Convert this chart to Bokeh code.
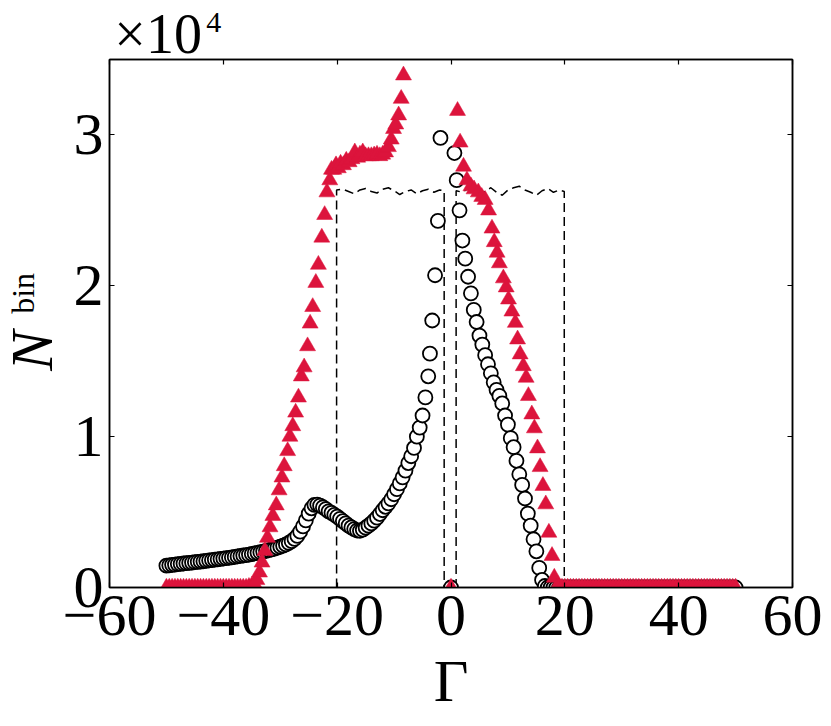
import math
from bokeh.plotting import figure
from bokeh.models import Range1d, FixedTicker, LinearAxis, Label
from bokeh.embed import file_html
from bokeh.resources import INLINE

# ---------------- data (N_bin in units of 10^4) ----------------
x_ticks = [-60, -40, -20, 0, 20, 40, 60]
x_tick_labels = ["\u221260", "\u221240", "\u221220", "0", "20", "40", "60"]
y_ticks = [0, 1, 2, 3]
y_tick_labels = ["0", "1", "2", "3"]

# open circles
circ_x_left = [
    -50.0, -49.5, -49.0, -48.5, -48.0, -47.5, -47.0, -46.5, -46.0, -45.5,
    -45.0, -44.5, -44.0, -43.5, -43.0, -42.5, -42.0, -41.5, -41.0, -40.5,
    -40.0, -39.5, -39.0, -38.5, -38.0, -37.5, -37.0, -36.5, -36.0, -35.5,
    -35.0, -34.5, -34.0, -33.5, -33.0, -32.5, -32.0, -31.5, -31.0, -30.5,
    -30.0, -29.5, -29.0, -28.5, -28.0, -27.5, -27.0, -26.5, -26.0, -25.5,
    -25.0, -24.5, -24.0, -23.5, -23.0, -22.5, -22.0, -21.5, -21.0, -20.5,
    -20.0, -19.5, -19.0, -18.5, -18.0, -17.5, -17.0, -16.5, -16.0, -15.5,
    -15.0, -14.5, -14.0, -13.5, -13.0, -12.5, -12.0, -11.5, -11.0, -10.5,
    -10.0, -9.5, -9.0, -8.5, -8.0, -7.5, -7.0, -6.5, -6.0, -5.5,
    -5.0, -4.5, -4.0, -3.7, -3.3, -2.8, -2.3, -1.85,
]
circ_y_left = [
    0.145, 0.147, 0.150, 0.152, 0.155, 0.157, 0.159, 0.161, 0.163, 0.165,
    0.168, 0.170, 0.172, 0.174, 0.177, 0.180, 0.182, 0.185, 0.187, 0.190,
    0.192, 0.195, 0.197, 0.200, 0.203, 0.206, 0.209, 0.212, 0.215, 0.218,
    0.222, 0.226, 0.230, 0.234, 0.238, 0.243, 0.248, 0.253, 0.258, 0.264,
    0.270, 0.277, 0.285, 0.295, 0.307, 0.322, 0.342, 0.370, 0.405, 0.445,
    0.490, 0.525, 0.548, 0.550, 0.543, 0.532, 0.520, 0.505, 0.495, 0.482,
    0.470, 0.455, 0.440, 0.425, 0.410, 0.398, 0.387, 0.378, 0.376, 0.383,
    0.396, 0.410, 0.425, 0.443, 0.463, 0.487, 0.512, 0.535, 0.558, 0.585,
    0.618, 0.652, 0.690, 0.730, 0.775, 0.825, 0.870, 0.925, 1.000, 1.060,
    1.140, 1.260, 1.400, 1.550, 1.770, 2.070, 2.430, 2.980,
]
circ_x_mid = [0.0]
circ_y_mid = [0.0]
circ_x_right = [
    0.6, 1.0, 1.5, 2.0, 2.5, 3.0, 3.5, 4.0, 4.5, 5.0,
    5.5, 6.0, 6.5, 7.0, 7.5, 8.0, 8.5, 9.0, 9.5, 10.0,
    10.5, 11.0, 11.5, 12.0, 12.5, 13.0, 13.5, 14.0, 14.5, 15.0,
    15.5, 16.0, 16.5,
    17.0, 17.5, 18.0, 18.5, 19.0, 19.5, 20.0, 20.5, 21.0, 21.5,
    22.0, 22.5, 23.0, 23.5, 24.0, 24.5, 25.0, 25.5, 26.0, 26.5,
    27.0, 27.5, 28.0, 28.5, 29.0, 29.5, 30.0, 30.5, 31.0, 31.5,
    32.0, 32.5, 33.0, 33.5, 34.0, 34.5, 35.0, 35.5, 36.0, 36.5,
    37.0, 37.5, 38.0, 38.5, 39.0, 39.5, 40.0, 40.5, 41.0, 41.5,
    42.0, 42.5, 43.0, 43.5, 44.0, 44.5, 45.0, 45.5, 46.0, 46.5,
    47.0, 47.5, 48.0, 48.5, 49.0, 49.5, 50.0,
]
circ_y_right = [
    2.88, 2.70, 2.50, 2.30, 2.18, 2.06, 1.95, 1.84, 1.76, 1.67,
    1.61, 1.54, 1.48, 1.42, 1.36, 1.31, 1.27, 1.22, 1.14, 1.08,
    0.99, 0.93, 0.84, 0.75, 0.68, 0.59, 0.49, 0.41, 0.32, 0.24,
    0.13, 0.05, 0.01,
    0, 0, 0, 0, 0, 0, 0, 0, 0, 0,
    0, 0, 0, 0, 0, 0, 0, 0, 0, 0,
    0, 0, 0, 0, 0, 0, 0, 0, 0, 0,
    0, 0, 0, 0, 0, 0, 0, 0, 0, 0,
    0, 0, 0, 0, 0, 0, 0, 0, 0, 0,
    0, 0, 0, 0, 0, 0, 0, 0, 0, 0,
    0, 0, 0, 0, 0, 0, 0,
]

# filled triangles
tri_x_left = [
    -50.0, -49.5, -49.0, -48.5, -48.0, -47.5, -47.0, -46.5, -46.0, -45.5,
    -45.0, -44.5, -44.0, -43.5, -43.0, -42.5, -42.0, -41.5, -41.0, -40.5,
    -40.0, -39.5, -39.0, -38.5, -38.0, -37.5, -37.0, -36.5, -36.0,
    -35.5, -35.0, -34.55, -34.1, -33.65, -33.2, -32.7, -32.25, -31.8, -31.3,
    -30.7, -30.2, -29.7, -29.3, -28.7, -28.3, -27.8, -27.3, -26.8, -26.3,
    -25.8, -25.2, -24.75, -24.3, -23.75, -23.3, -22.7, -22.2, -21.8, -21.3,
    -21.0, -20.6, -20.2, -19.8, -19.4, -18.9, -18.4, -17.9, -17.4, -16.9,
    -16.4, -16.0, -15.5, -15.0, -14.5, -14.0, -13.5, -13.0, -12.5, -12.0,
    -11.5, -11.0, -10.5, -10.1, -9.7, -9.2, -8.75, -8.35,
]
tri_y_left = [
    0, 0, 0, 0, 0, 0, 0, 0, 0, 0,
    0, 0, 0, 0, 0, 0, 0, 0, 0, 0,
    0, 0, 0, 0, 0, 0, 0, 0, 0,
    0.005, 0.012, 0.025, 0.05, 0.10, 0.166, 0.243, 0.33, 0.40, 0.475,
    0.545, 0.645, 0.73, 0.805, 0.905, 1.00, 1.07, 1.16, 1.26, 1.40,
    1.46, 1.60, 1.75, 1.86, 2.02, 2.14, 2.32, 2.47, 2.62, 2.70,
    2.77, 2.77, 2.80, 2.78, 2.81, 2.80, 2.83, 2.82, 2.84, 2.885,
    2.85, 2.87, 2.885, 2.86, 2.86, 2.86, 2.865, 2.87, 2.86, 2.87,
    2.885, 2.92, 2.97, 3.04, 3.07, 3.13, 3.24, 3.395,
]
tri_x_right = [
    0.0, 1.15, 1.6, 2.2, 2.8, 3.5, 4.05, 4.8, 5.4, 6.0,
    6.6, 7.2, 7.6, 8.1, 8.5, 9.2, 9.7, 10.1, 10.7, 11.3,
    11.7, 12.15, 12.7, 13.2, 13.6, 14.2, 14.65, 15.2, 15.65, 16.15,
    16.65, 17.2, 17.75, 18.15,
    18.5, 19.0, 19.5, 20.0, 20.5, 21.0, 21.5, 22.0, 22.5, 23.0,
    23.5, 24.0, 24.5, 25.0, 25.5, 26.0, 26.5, 27.0, 27.5, 28.0,
    28.5, 29.0, 29.5, 30.0, 30.5, 31.0, 31.5, 32.0, 32.5, 33.0,
    33.5, 34.0, 34.5, 35.0, 35.5, 36.0, 36.5, 37.0, 37.5, 38.0,
    38.5, 39.0, 39.5, 40.0, 40.5, 41.0, 41.5, 42.0, 42.5, 43.0,
    43.5, 44.0, 44.5, 45.0, 45.5, 46.0, 46.5, 47.0, 47.5, 48.0,
    48.5, 49.0, 49.5, 50.0,
]
tri_y_right = [
    0.0, 3.16, 2.95, 2.79, 2.70, 2.66, 2.64, 2.62, 2.59, 2.57,
    2.50, 2.38, 2.29, 2.22, 2.15, 2.05, 1.99, 1.91, 1.83, 1.755,
    1.645, 1.546, 1.468, 1.391, 1.270, 1.148, 1.056, 0.923, 0.799, 0.674,
    0.552, 0.364, 0.210, 0.066,
    0, 0, 0, 0, 0, 0, 0, 0, 0, 0,
    0, 0, 0, 0, 0, 0, 0, 0, 0, 0,
    0, 0, 0, 0, 0, 0, 0, 0, 0, 0,
    0, 0, 0, 0, 0, 0, 0, 0, 0, 0,
    0, 0, 0, 0, 0, 0, 0, 0, 0, 0,
    0, 0, 0, 0, 0, 0, 0, 0, 0, 0,
    0, 0, 0, 0,
]

# dashed reference (top-hat with a hole around zero)
dash_x = [
    -20.1, -20.1, -19, -18, -17, -16, -15, -14, -13, -12, -11, -10,
    -9, -8, -7, -6, -5, -4, -3, -2, -1.2, -1.2,
    0.9, 0.9, 2, 3, 4, 5, 6, 7, 8, 9, 10, 11, 12, 13, 14, 15, 16,
    17, 18, 19, 19.9, 19.9,
]
dash_y = [
    0, 2.635, 2.64, 2.625, 2.61, 2.635, 2.645, 2.625, 2.615, 2.64, 2.65, 2.63,
    2.605, 2.625, 2.635, 2.61, 2.63, 2.64, 2.62, 2.635, 2.63, 0,
    0, 2.63, 2.62, 2.645, 2.63, 2.61, 2.625, 2.65, 2.62, 2.60, 2.635, 2.65,
    2.66, 2.635, 2.62, 2.60, 2.63, 2.645, 2.62, 2.635, 2.625, 0,
]

circ_x = circ_x_left + circ_x_mid + circ_x_right
circ_y = circ_y_left + circ_y_mid + circ_y_right
tri_x = tri_x_left + tri_x_right
tri_y = tri_y_left + tri_y_right

SERIF = "Liberation Serif"
RED = "#DC143C"

p = figure(
    width=831, height=726,
    output_backend="svg", toolbar_location=None,
    x_range=Range1d(-60, 60), y_range=Range1d(0, 3.5),
    min_border_left=109, min_border_right=39,
    min_border_top=59, min_border_bottom=139,
)
p.background_fill_color = "white"
p.border_fill_color = "white"
p.outline_line_color = "black"
p.outline_line_width = 1.5
p.xgrid.visible = False
p.ygrid.visible = False

def style_axis(ax, ticks, labels, show_labels=True):
    ax.ticker = FixedTicker(ticks=ticks)
    ax.major_tick_in = 5
    ax.major_tick_out = 0
    ax.major_tick_line_width = 1.2
    ax.minor_tick_line_color = None
    ax.axis_line_width = 1.5
    if show_labels:
        ax.major_label_overrides = {t: l for t, l in zip(ticks, labels)}
        ax.major_label_text_font = SERIF
        ax.major_label_text_font_size = "60px"
        ax.major_label_text_color = "black"
    else:
        ax.major_label_text_font_size = "0px"
        ax.major_label_text_color = None
        ax.major_label_standoff = 0

style_axis(p.xaxis[0], x_ticks, x_tick_labels)
p.xaxis[0].major_label_standoff = 8
style_axis(p.yaxis[0], y_ticks, y_tick_labels)
p.yaxis[0].major_label_standoff = 6

top_ax = LinearAxis()
style_axis(top_ax, x_ticks, x_tick_labels, show_labels=False)
p.add_layout(top_ax, "above")
right_ax = LinearAxis()
style_axis(right_ax, y_ticks, y_tick_labels, show_labels=False)
p.add_layout(right_ax, "right")

p.line(dash_x, dash_y, line_color="black", line_width=1.5, line_dash="9 5")
p.scatter(circ_x, circ_y, marker="circle", size=14, fill_color="white",
          line_color="black", line_width=1.8)
p.scatter(tri_x, tri_y, marker="triangle", size=16, fill_color=RED,
          line_color=RED, line_width=0.5)

# texts: positioned in data units; each is hosted in a side panel with
# spare room so it is not clipped to the frame
def add_text(side, x, y, text, size, align="left", style="normal", angle=0.0):
    p.add_layout(Label(x=x, y=y, text=text, text_font=SERIF,
                       text_font_size=size, text_font_style=style,
                       text_align=align, text_baseline="alphabetic",
                       angle=angle, text_color="black"), side)

add_text("below", -59.15, 3.666, "\u00d710", "56px")
add_text("left", -43.0, 3.746, "4", "30px")
add_text("left", 0.02, -0.620, "\u0393", "60px", align="center")
add_text("above", -73.54, 1.436, "N", "60px", style="italic", angle=math.pi / 2)
add_text("right", -75.19, 1.814, "bin", "32px", angle=math.pi / 2)

open("out.html", "w").write(file_html(p, INLINE))
